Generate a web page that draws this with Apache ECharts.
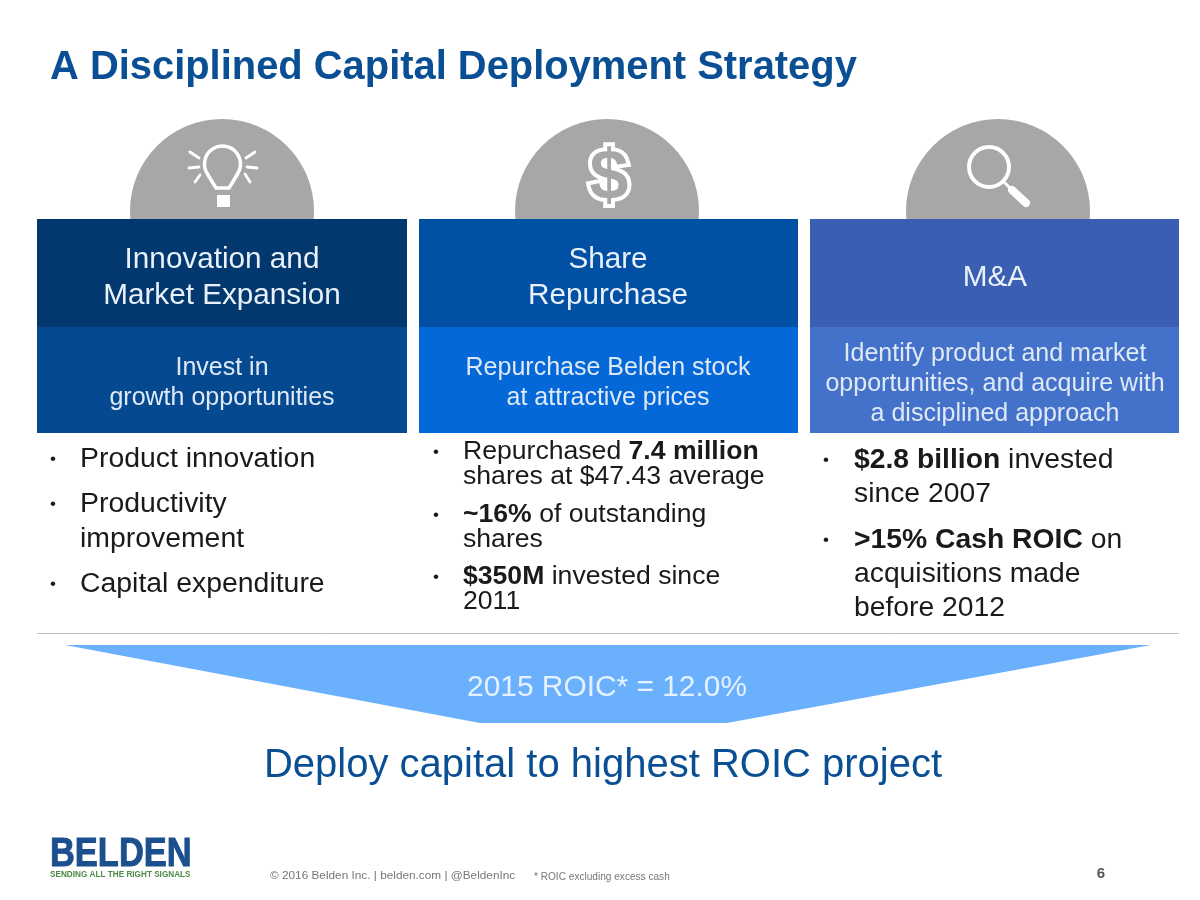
<!DOCTYPE html>
<html>
<head>
<meta charset="utf-8">
<style>html,body{margin:0;background:#fff}#main{width:1200px;height:900px}</style>
<script src="https://cdn.jsdelivr.net/npm/echarts@6/dist/echarts.min.js"></script>
</head>
<body>
<div id="main"></div>
<script>
var title = 'A Disciplined Capital Deployment Strategy';
var headers = [['Innovation and', 'Market Expansion'], ['Share', 'Repurchase'], ['M&A']];
var subheads = [
    ['Invest in', 'growth opportunities'],
    ['Repurchase Belden stock', 'at attractive prices'],
    ['Identify product and market', 'opportunities, and acquire with', 'a disciplined approach']
];
var bullets1 = ['Product innovation', 'Productivity', 'improvement', 'Capital expenditure'];
var bullets2 = ['Repurchased {b|7.4 million}', 'shares at $47.43 average', '{b|~16%} of outstanding', 'shares', '{b|$350M} invested since', '2011'];
var bullets3 = ['{b|$2.8 billion} invested', 'since 2007', '{b|>15% Cash ROIC} on', 'acquisitions made', 'before 2012'];
var roicLabel = '2015 ROIC* = 12.0%';
var deploy = 'Deploy capital to highest ROIC project';
var copyright = '\u00a9 2016 Belden Inc. | belden.com | @BeldenInc';
var footnote = '* ROIC excluding excess cash';
var pageNumber = '6';
var logo = 'BELDEN';
var tagline = 'SENDING ALL THE RIGHT SIGNALS';

var FONT = '"Liberation Sans", Arial, sans-serif';
var myChart = echarts.init(document.getElementById('main'));
var g = [];

function txt(s, x, y, size, fill, align, weight, extra) {
    var style = {
        text: s, x: x, y: y, fontSize: size, fontFamily: FONT, fill: fill,
        fontWeight: weight || 'normal', align: align || 'left', verticalAlign: 'middle',
        rich: { b: { fontSize: size, fontFamily: FONT, fontWeight: 'bold', fill: fill } }
    };
    for (var k in extra) style[k] = extra[k];
    g.push({ type: 'text', style: style });
}
function rect(x, y, w, h, fill) {
    g.push({ type: 'rect', shape: { x: x, y: y, width: w, height: h }, style: { fill: fill } });
}
function stroke(width) {
    return { fill: 'none', stroke: '#fff', lineWidth: width, lineCap: 'round', lineJoin: 'round' };
}
function line(x1, y1, x2, y2, width) {
    g.push({ type: 'line', shape: { x1: x1, y1: y1, x2: x2, y2: y2 }, style: stroke(width) });
}

var cols = [
    { x: 37, w: 370, cx: 222, tx: 222, top: '#03386f', sub: '#054a91' },
    { x: 419, w: 379, cx: 607, tx: 608, top: '#0250a4', sub: '#0468d8' },
    { x: 810, w: 369, cx: 998, tx: 995, top: '#3a5fb2', sub: '#4472ca' }
];
var headerY = [[260, 296], [260, 296], [278]];
var subY = [[368, 398], [368, 398], [354, 384, 414]];

txt(title, 50, 68, 39.9, '#0a4f93', 'left', 'bold');

cols.forEach(function (c, i) {
    g.push({ type: 'circle', shape: { cx: c.cx, cy: 211, r: 92 }, style: { fill: '#a7a6a8' } });
    rect(c.x, 219, c.w, 108, c.top);
    rect(c.x, 327, c.w, 106, c.sub);
    headers[i].forEach(function (s, j) { txt(s, c.tx, headerY[i][j], 29.7, '#e8f0fa', 'center'); });
    subheads[i].forEach(function (s, j) { txt(s, c.tx, subY[i][j], 25, '#dfe9f6', 'center'); });
});

// lightbulb
g.push({ type: 'arc', shape: { cx: 222.5, cy: 164, r: 18, startAngle: Math.PI * 0.8, endAngle: Math.PI * 2.2, clockwise: true }, style: stroke(3.5) });
g.push({ type: 'polyline', shape: { points: [[208, 175], [216, 188], [229, 188], [237, 175]] }, style: stroke(3.5) });
line(190, 152, 199, 158, 2.8);
line(189, 168, 199, 167, 2.8);
line(195, 182, 200, 175, 2.8);
line(255, 152, 246, 158, 2.8);
line(257, 168, 247, 167, 2.8);
line(250, 182, 245, 174, 2.8);
rect(217, 195, 13, 12, '#fff');
// dollar
txt('$', 609, 180, 70, '#a7a6a8', 'center', 'bold', { stroke: '#fff', lineWidth: 8 });
// magnifier
g.push({ type: 'circle', shape: { cx: 989, cy: 167, r: 20 }, style: { fill: 'none', stroke: '#fff', lineWidth: 4 } });
line(1003, 181, 1011, 189, 3);
line(1012, 190, 1026, 203, 8);

// bullet columns
var y1 = [459, 504, 539, 584], dot1 = [0, 1, 3];
var y2 = [452, 477, 515, 540, 577, 602], dot2 = [0, 2, 4];
var y3 = [460, 494, 540, 574, 608], dot3 = [0, 2];
bullets1.forEach(function (s, i) { txt(s, 80, y1[i], 28.4, '#1a1a1a'); });
dot1.forEach(function (i) { txt('\u2022', 53, y1[i], 17, '#1a1a1a', 'center'); });
bullets2.forEach(function (s, i) { txt(s, 463, y2[i], 26.6, '#1a1a1a'); });
dot2.forEach(function (i) { txt('\u2022', 436, y2[i], 17, '#1a1a1a', 'center'); });
bullets3.forEach(function (s, i) { txt(s, 854, y3[i], 28.3, '#1a1a1a'); });
dot3.forEach(function (i) { txt('\u2022', 826, y3[i], 17, '#1a1a1a', 'center'); });

// rule and funnel
g.push({ type: 'line', shape: { x1: 37, y1: 633.5, x2: 1179, y2: 633.5 }, style: { stroke: '#bfbfbf', lineWidth: 1 } });
g.push({ type: 'polygon', shape: { points: [[65, 645], [1151, 645], [727, 723], [480, 723]] }, style: { fill: '#6ab0fd' } });
txt(roicLabel, 607, 688, 29.9, '#e6f1ff', 'center');
txt(deploy, 603, 766, 40, '#0a4f93', 'center');

// footer
g.push({ type: 'text', scaleX: 0.84, originX: 50, originY: 852, style: {
    text: logo, x: 50, y: 855, fontSize: 41, fontFamily: FONT, fontWeight: 'bold', fill: '#1b4f8d', stroke: '#1b4f8d', lineWidth: 1, verticalAlign: 'middle', align: 'left'
} });
txt(tagline, 50, 875, 8.2, '#4d8a45', 'left', 'bold');
txt(copyright, 270, 876, 11.8, '#777');
txt(footnote, 534, 877, 10.1, '#777');
txt(pageNumber, 1101, 874, 15, '#555', 'center', 'bold');

var option = { animation: false, graphic: { elements: g } };
option && myChart.setOption(option);
</script>
</body>
</html>
